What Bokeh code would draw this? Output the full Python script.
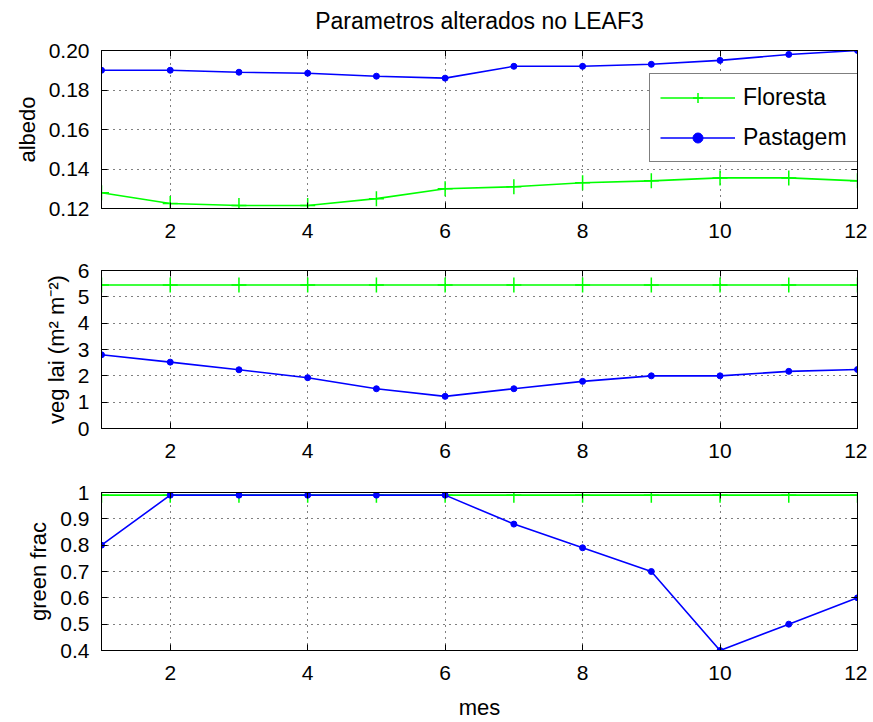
from bokeh.plotting import figure
from bokeh.models import (LinearAxis, FixedTicker, Range1d, Legend, LegendItem,
                          PrintfTickFormatter)
from bokeh.layouts import column
from bokeh.embed import file_html
from bokeh.resources import INLINE

# ---------------- data ----------------
meses = [1, 2, 3, 4, 5, 6, 7, 8, 9, 10, 11, 12]

albedo_floresta = [0.128, 0.1225, 0.1215, 0.1215, 0.125, 0.130, 0.131, 0.133, 0.134, 0.1355, 0.1355, 0.134]
albedo_pastagem = [0.190, 0.190, 0.189, 0.1885, 0.187, 0.186, 0.192, 0.192, 0.193, 0.195, 0.198, 0.200]

lai_floresta = [5.45] * 12
lai_pastagem = [2.8, 2.52, 2.23, 1.93, 1.51, 1.22, 1.51, 1.79, 2.0, 2.0, 2.17, 2.24]

green_floresta = [0.99] * 12
green_pastagem = [0.80, 0.99, 0.99, 0.99, 0.99, 0.99, 0.88, 0.79, 0.70, 0.40, 0.50, 0.60]

x_ticks = [2, 4, 6, 8, 10, 12]
albedo_ticks = [0.12, 0.14, 0.16, 0.18, 0.20]
lai_ticks = [0, 1, 2, 3, 4, 5, 6]
green_ticks = [0.4, 0.5, 0.6, 0.7, 0.8, 0.9, 1.0]
green_tick_labels = ["0.4", "0.5", "0.6", "0.7", "0.8", "0.9", "1"]

title_text = "Parametros alterados no LEAF3"
series_names = ["Floresta", "Pastagem"]

GREEN = "#00ff00"
BLUE = "#0000ff"
FONT = "Liberation Sans"
TICK_FS = "21px"
LAB_FS = "22px"


def style_axis(ax, show_labels=True, standoff=12):
    ax.axis_line_color = "black"
    ax.axis_line_width = 1
    ax.major_tick_in = 6
    ax.major_tick_out = 0
    ax.major_tick_line_color = "black"
    ax.minor_tick_line_color = None
    ax.major_label_text_font = FONT
    ax.major_label_text_color = "black"
    ax.axis_label_text_font = FONT
    ax.axis_label_text_font_style = "normal"
    ax.axis_label_text_font_size = LAB_FS
    ax.axis_label_text_color = "black"
    if show_labels:
        ax.major_label_text_font_size = TICK_FS
        ax.major_label_standoff = standoff
    else:
        ax.major_label_text_font_size = "0px"
        ax.major_label_text_color = None
        ax.major_label_standoff = 0


def make_fig(ylabel, y0, y1, yticks, ydata_f, ydata_p, top, bottom, title=None,
             xlabel=None, fmt=None, overrides=None):
    p = figure(frame_width=756, frame_height=158, output_backend="svg",
               toolbar_location=None, min_border_left=101, min_border_right=10,
               min_border_top=top, min_border_bottom=bottom,
               x_range=Range1d(1, 12), y_range=Range1d(y0, y1))
    p.background_fill_color = "white"
    p.border_fill_color = "white"
    p.outline_line_color = "black"

    xt = FixedTicker(ticks=x_ticks)
    yt = FixedTicker(ticks=yticks)
    p.xaxis.ticker = xt
    p.yaxis.ticker = yt
    style_axis(p.xaxis[0], standoff=15)
    style_axis(p.yaxis[0], standoff=12)
    p.yaxis.axis_label = ylabel
    p.yaxis.axis_label_standoff = 6
    if xlabel:
        p.xaxis.axis_label = xlabel
        p.xaxis.axis_label_standoff = 12
    if fmt:
        p.yaxis.formatter = PrintfTickFormatter(format=fmt)
    if overrides:
        p.yaxis.major_label_overrides = overrides

    ra = LinearAxis(ticker=FixedTicker(ticks=yticks))
    style_axis(ra, show_labels=False)
    p.add_layout(ra, "right")
    ta = LinearAxis(ticker=FixedTicker(ticks=x_ticks))
    style_axis(ta, show_labels=False)
    if title:
        # the chart title sits on the top frame axis, centred over the panel
        ta.axis_label = title
        ta.axis_label_text_font_size = "23px"
        ta.axis_label_standoff = 17
    p.add_layout(ta, "above")

    for g in (p.xgrid[0], p.ygrid[0]):
        g.grid_line_color = "black"
        g.grid_line_dash = "1 5"
        g.grid_line_width = 1
        g.grid_line_alpha = 1
    p.xgrid.ticker = xt
    p.ygrid.ticker = yt

    lf = p.line(meses, ydata_f, line_color=GREEN, line_width=1.6)
    mf = p.scatter(meses, ydata_f, marker="cross", size=15, line_color=GREEN, line_width=1.5)
    lp = p.line(meses, ydata_p, line_color=BLUE, line_width=1.6)
    mp = p.scatter(meses, ydata_p, marker="circle", size=6, line_color=BLUE, fill_color=BLUE)
    return p, (lf, mf, lp, mp)


p1, r1 = make_fig("albedo", 0.12, 0.20, albedo_ticks, albedo_floresta, albedo_pastagem,
                  top=50, bottom=42, title=title_text, fmt="%.2f")
p2, _ = make_fig("veg lai (m² m⁻²)", 0, 6, lai_ticks, lai_floresta, lai_pastagem,
                 top=20, bottom=42)
p3, _ = make_fig("green frac", 0.4, 1.0, green_ticks, green_floresta, green_pastagem,
                 top=22, bottom=60, xlabel="mes",
                 overrides={t: l for t, l in zip(green_ticks, green_tick_labels)})

legend = Legend(items=[LegendItem(label=series_names[0], renderers=[r1[0], r1[1]]),
                       LegendItem(label=series_names[1], renderers=[r1[2], r1[3]])],
                location=(548, 46))
legend.label_text_font = FONT
legend.label_text_font_size = "23px"
legend.label_text_color = "black"
legend.glyph_width = 75
legend.glyph_height = 25
legend.label_height = 25
legend.label_standoff = 8
legend.spacing = 13
legend.padding = 10
legend.margin = 0
legend.border_line_color = "black"
legend.border_line_width = 1
legend.background_fill_color = "white"
legend.background_fill_alpha = 1
p1.add_layout(legend)

layout = column(p1, p2, p3, spacing=0)
open("out.html", "w").write(file_html(layout, INLINE))
